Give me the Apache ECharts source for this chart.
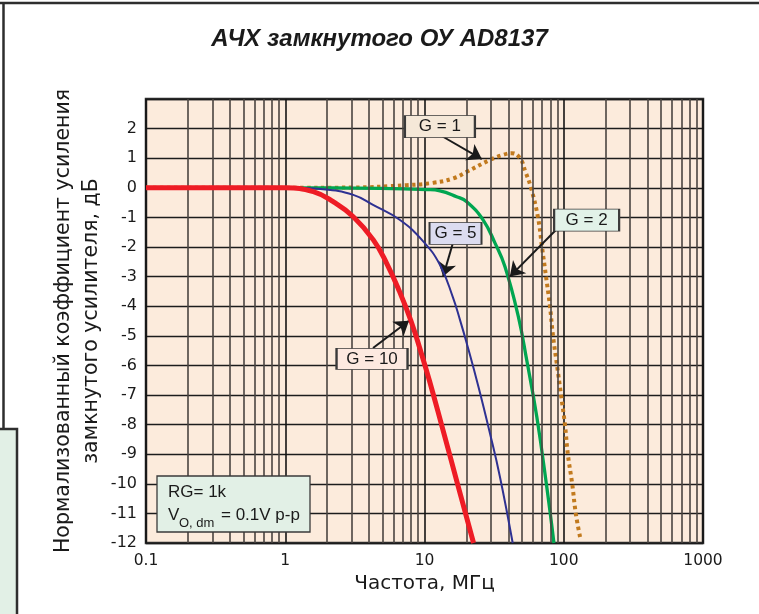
<!DOCTYPE html>
<html><head><meta charset="utf-8">
<script src="https://cdn.jsdelivr.net/npm/echarts@6/dist/echarts.min.js"></script>
<style>html,body{margin:0;padding:0;background:#fff}#c{width:759px;height:614px}</style>
</head><body><div id="c"></div>
<script>
// ---- data ----
const xTickLabels = ['0.1', '1', '10', '100', '1000'];
const yTickLabels = ['2', '1', '0', '-1', '-2', '-3', '-4', '-5', '-6', '-7', '-8', '-9', '-10', '-11', '-12'];
const seriesNames = ['G = 10', 'G = 5', 'G = 2', 'G = 1'];

const freqG10 = [0.1, 0.3, 1, 1.59, 2.21, 3.08, 4.29, 5.35, 6.61, 8.0, 9.36, 10.83, 13.25, 17.26, 22.5];
const gainG10 = [0, 0, 0, -0.13, -0.47, -0.98, -1.76, -2.55, -3.5, -4.5, -5.5, -6.5, -8, -10, -12];

const freqG5 = [0.1, 1, 1.87, 3.08, 4.27, 6.67, 9.75, 12.9, 16.0, 18.0, 20.1, 24.4, 29.5, 34.8, 43];
const gainG5 = [0, 0, -0.05, -0.24, -0.58, -1.09, -1.8, -2.6, -3.7, -4.47, -5.25, -6.72, -8.29, -9.76, -12];

const freqG2 = [0.1, 1, 4.8, 10.4, 12.9, 17.0, 20.1, 26.4, 32.1, 37.8, 47.2, 54.2, 64.0, 75.5, 85];
const gainG2 = [0, 0, -0.02, -0.06, -0.1, -0.3, -0.47, -1.09, -1.87, -2.66, -4.35, -5.82, -7.73, -10.1, -12];

const freqG1 = [0.1, 1, 3.0, 7.45, 11.6, 16.1, 20.1, 29.5, 37, 42.3, 48.5, 53, 58.2, 65.3, 69.8, 74.6, 79.6, 83.7, 89.5, 95.6, 102, 107, 115, 122, 131];
const gainG1 = [0, 0, 0.01, 0.09, 0.17, 0.32, 0.54, 0.94, 1.12, 1.17, 1.0, 0.55, 0, -1, -2, -3, -4, -5, -6, -7, -8, -9, -10, -11, -11.8];

// gridline helpers (log decades and minor multiples)
const decades = [0.1, 1, 10, 100];
const minorMultiples = [2, 3, 4, 5, 6, 7, 8, 9];

// ---- build ----
const pairs = (xs, ys) => xs.map((x, i) => [x, ys[i]]);
const minorValues = [];
decades.forEach(d => minorMultiples.forEach(m => minorValues.push(+(d * m).toPrecision(3))));

const FONT = 'Liberation Sans';
const chart = echarts.init(document.getElementById('c'), null, { renderer: 'canvas' });

function boxLabel(text, coord, w, h, fill) {
  return {
    coord: coord, symbol: 'rect', symbolSize: [w, h],
    itemStyle: { color: fill, borderColor: '#3a3a3a', borderWidth: 1.3 },
    label: { show: true, position: 'inside', formatter: text, color: '#1a1a1a', fontSize: 17, fontFamily: FONT }
  };
}

const curveStyle = { showSymbol: false, smooth: 0.45 };

const option = {
  animation: false,
  backgroundColor: '#ffffff',
  title: {
    text: 'АЧХ замкнутого ОУ AD8137',
    left: 'center', top: 22,
    textStyle: { fontFamily: FONT, fontSize: 24, fontWeight: 'bold', fontStyle: 'italic', color: '#1a1a1a' }
  },
  grid: {
    left: 146, top: 99, right: 56, bottom: 71,
    show: true, backgroundColor: '#fcebdc', borderColor: '#2e2e2e', borderWidth: 2.5
  },
  xAxis: {
    type: 'log', logBase: 10, min: 0.1, max: 1000,
    name: 'Частота, МГц', nameLocation: 'middle', nameGap: 27,
    nameTextStyle: { fontFamily: 'DejaVu Sans', fontSize: 20, color: '#1a1a1a' },
    axisLine: { show: false }, axisTick: { show: false },
    axisLabel: {
      fontFamily: 'DejaVu Sans', fontSize: 15.5, color: '#1a1a1a', margin: 10,
      formatter: v => xTickLabels[Math.round(Math.log10(v)) + 1] || ''
    },
    splitLine: { show: true, lineStyle: { color: '#151515', width: 1.6 } }
  },
  yAxis: {
    type: 'value', min: -12, max: 3, interval: 1,
    name: 'Нормализованный коэффициент усиления\nзамкнутого усилителя, дБ',
    nameLocation: 'middle', nameGap: 40, nameRotate: 90, nameMoveOverlap: false,
    nameTextStyle: { fontFamily: 'DejaVu Sans', fontSize: 20.5, lineHeight: 28, color: '#1a1a1a' },
    axisLine: { show: false }, axisTick: { show: false },
    axisLabel: {
      fontFamily: 'DejaVu Sans', fontSize: 16, color: '#1a1a1a', margin: 9,
      formatter: v => (v >= 3 ? '' : yTickLabels[2 - v] || '')
    },
    splitLine: { show: true, lineStyle: { color: '#1c1c1c', width: 1.4 } }
  },
  series: [
    {
      type: 'line', name: 'minor-grid', data: [], silent: true, z: 1,
      markLine: {
        silent: true, symbol: ['none', 'none'], label: { show: false },
        lineStyle: { color: '#4a4440', width: 1.6, type: 'solid' },
        data: minorValues.map(v => ({ xAxis: v }))
      }
    },
    Object.assign({
      type: 'line', name: seriesNames[3], data: pairs(freqG1, gainG1), z: 3,
      lineStyle: { color: '#c27a1e', width: 4, type: [3.5, 3.5], cap: 'butt' }
    }, curveStyle),
    Object.assign({
      type: 'line', name: seriesNames[2], data: pairs(freqG2, gainG2), z: 4,
      lineStyle: { color: '#00a651', width: 3.3 }
    }, curveStyle),
    Object.assign({
      type: 'line', name: seriesNames[1], data: pairs(freqG5, gainG5), z: 5,
      lineStyle: { color: '#2e3192', width: 2 }
    }, curveStyle),
    Object.assign({
      type: 'line', name: seriesNames[0], data: pairs(freqG10, gainG10), z: 6,
      lineStyle: { color: '#ee1c25', width: 5 }
    }, curveStyle),
    {
      type: 'line', name: 'annotations', data: [], silent: true, z: 10,
      markLine: {
        silent: true, symbol: ['none', 'arrow'], symbolSize: 14,
        label: { show: false },
        itemStyle: { color: '#1a1a1a' },
        lineStyle: { color: '#1a1a1a', width: 2, type: 'solid' },
        data: [
          [{ coord: [13.3, 1.75] }, { coord: [25.8, 0.97] }],
          [{ coord: [15.9, -1.91] }, { coord: [13.6, -3.0] }],
          [{ coord: [88.9, -1.40] }, { coord: [41.0, -3.0] }],
          [{ coord: [4.27, -5.41] }, { coord: [7.74, -4.49] }]
        ]
      },
      markPoint: {
        silent: true,
        data: [
          boxLabel(seriesNames[3], [12.9, 2.07], 70, 22, '#f5e8d8'),
          boxLabel(seriesNames[1], [16.7, -1.54], 52, 22, '#dcdcf0'),
          boxLabel(seriesNames[2], [146, -1.09], 65, 22, '#e2f2e8'),
          boxLabel(seriesNames[0], [4.2, -5.78], 71, 21, '#fde9e0')
        ]
      }
    }
  ],
  graphic: [
    { type: 'line', shape: { x1: 0, y1: 3, x2: 759, y2: 3 }, style: { stroke: '#2e2e2e', lineWidth: 2.5 }, silent: true },
    { type: 'line', shape: { x1: 3.5, y1: 3, x2: 3.5, y2: 429 }, style: { stroke: '#2e2e2e', lineWidth: 2.5 }, silent: true },
    { type: 'rect', shape: { x: -3, y: 429, width: 20, height: 190 }, style: { fill: '#e2f0e6', stroke: '#2e2e2e', lineWidth: 2.5 }, silent: true },
    { type: 'rect', shape: { x: 157, y: 476, width: 153, height: 56 }, style: { fill: '#e2f0e6', stroke: '#3a3a3a', lineWidth: 1.3 }, z: 20, silent: true },
    { type: 'text', x: 168, y: 492, z: 21, silent: true, style: { text: 'RG= 1k', fill: '#1a1a1a', font: '17px "Liberation Sans"', textVerticalAlign: 'middle' } },
    { type: 'text', x: 168, y: 515, z: 21, silent: true, style: { text: 'V', fill: '#1a1a1a', font: '17px "Liberation Sans"', textVerticalAlign: 'middle' } },
    { type: 'text', x: 179, y: 523, z: 21, silent: true, style: { text: 'O, dm', fill: '#1a1a1a', font: '13px "Liberation Sans"', textVerticalAlign: 'middle' } },
    { type: 'text', x: 221, y: 515, z: 21, silent: true, style: { text: '= 0.1V p-p', fill: '#1a1a1a', font: '17px "Liberation Sans"', textVerticalAlign: 'middle' } }
  ]
};
chart.setOption(option);
</script>
</body></html>
